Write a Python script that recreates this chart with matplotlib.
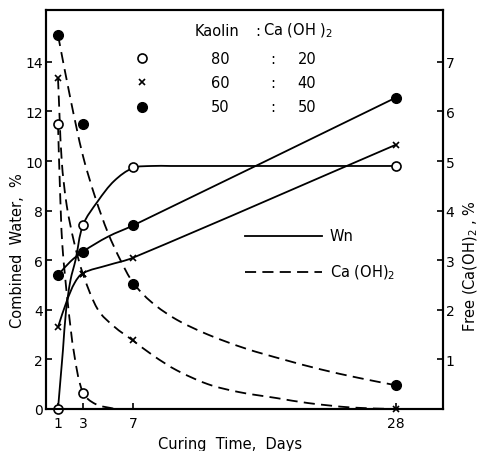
import matplotlib
matplotlib.use('Agg')
import matplotlib.pyplot as plt
import numpy as np
from matplotlib.path import Path
from matplotlib.patches import PathPatch

plt.rcParams['font.family'] = ['DejaVu Sans']
plt.rcParams['lines.scale_dashes'] = False

# ---------------- data ----------------
days = [1, 3, 7, 28]
x_ticks = [1, 3, 7, 28]
left_ticks = [0, 2, 4, 6, 8, 10, 12, 14]
right_ticks = [1, 2, 3, 4, 5, 6, 7]

# Combined water Wn (%), left axis - measured points
wn_80 = [0.0, 7.4, 9.75, 9.8]
wn_60 = [3.3, 5.45, 6.1, 10.65]
wn_50 = [5.4, 6.35, 7.4, 12.55]

# Free Ca(OH)2 (%), right axis - measured points
ch_80_days = [1, 3]
ch_80 = [5.75, 0.33]
ch_60 = [6.67, 2.72, 1.4, 0.0]
ch_50 = [7.54, 5.75, 2.52, 0.48]

# hand-drawn curve traces
wn_80_cx = [1, 1.2, 1.4, 1.65, 2.0, 2.4, 3, 4.2, 5.5, 7, 8.5, 10, 28]
wn_80_cy = [0, 1.2, 2.4, 4.0, 5.2, 6.0, 7.42, 8.39, 9.2, 9.72, 9.8, 9.8, 9.8]
wn_60_cx = [1, 1.7, 2.35, 3, 5, 7, 28]
wn_60_cy = [3.3, 4.35, 5.1, 5.48, 5.8, 6.1, 10.65]
wn_50_cx = [1, 2, 3, 5, 7, 28]
wn_50_cy = [5.4, 5.95, 6.35, 6.95, 7.4, 12.55]

ch_80_cx = [1, 1.15, 1.35, 1.8, 2.3, 3, 4, 5.6]
ch_80_cy = [5.75, 4.5, 3.3, 2.1, 1.1, 0.33, 0.1, 0.0]
ch_60_cx = [1, 1.3, 1.7, 2.3, 3, 4.2, 5.5, 7, 8.6, 10.5, 13, 15.5, 18.5, 21, 24.5, 28]
ch_60_cy = [6.67, 5.0, 4.1, 3.35, 2.72, 2.0, 1.66, 1.38, 1.08, 0.78, 0.5, 0.34, 0.22, 0.12, 0.03, 0.0]
ch_50_cx = [1, 2, 3, 4, 5, 6, 7, 8.5, 10.5, 13, 16, 19, 22, 25, 28]
ch_50_cy = [7.54, 6.25, 5.1, 4.25, 3.55, 3.0, 2.55, 2.15, 1.8, 1.5, 1.22, 1.0, 0.8, 0.63, 0.48]

legend_ratios = [("80", "20"), ("60", "40"), ("50", "50")]

# ---------------- figure ----------------
W, H = 483, 452
fig = plt.figure(figsize=(W / 100, H / 100), dpi=100)
fig.patch.set_facecolor('white')
ax = fig.add_axes([46 / W, (H - 410) / H, (443 - 46) / W, (410 - 11) / H])
ax2 = ax.twinx()

ax.set_xlim(0.04, 31.8)
ax.set_ylim(0, 16.09)
ax2.set_ylim(0, 16.09 / 2)

LW = 1.3
DASH = (0, (8, 4.5))


def smooth(axis, xs, ys, **kw):
    pts = np.column_stack([xs, ys]).astype(float)
    disp = axis.transData.transform(pts)
    n = len(disp)
    tang = np.zeros_like(disp)
    for i in range(n):
        d = disp[min(i + 1, n - 1)] - disp[max(i - 1, 0)]
        nrm = np.hypot(*d)
        tang[i] = d / nrm if nrm > 0 else 0
    verts = [disp[0]]
    codes = [Path.MOVETO]
    for i in range(n - 1):
        L = np.hypot(*(disp[i + 1] - disp[i]))
        verts += [disp[i] + tang[i] * L / 3, disp[i + 1] - tang[i + 1] * L / 3, disp[i + 1]]
        codes += [Path.CURVE4] * 3
    verts = axis.transData.inverted().transform(np.array(verts))
    axis.add_patch(PathPatch(Path(verts, codes), fill=False, transform=axis.transData,
                             capstyle='butt', joinstyle='round', **kw))


# Wn curves (solid)
smooth(ax, wn_80_cx, wn_80_cy, lw=LW, ec='black', zorder=2)
smooth(ax, wn_60_cx, wn_60_cy, lw=LW, ec='black', zorder=2)
smooth(ax, wn_50_cx, wn_50_cy, lw=LW, ec='black', zorder=2)
# Ca(OH)2 curves (dashed)
smooth(ax2, ch_80_cx, ch_80_cy, lw=LW, ec='black', ls=DASH, zorder=2)
smooth(ax2, ch_60_cx, ch_60_cy, lw=LW, ec='black', ls=DASH, zorder=2)
smooth(ax2, ch_50_cx, ch_50_cy, lw=LW, ec='black', ls=DASH, zorder=2)

mk_o = dict(marker='o', ms=6.5, mfc='white', mec='black', mew=1.2, ls='none', clip_on=False, zorder=5)
mk_x = dict(marker='x', ms=4.5, mec='black', mew=1.2, ls='none', clip_on=False, zorder=5)
mk_f = dict(marker='o', ms=7, mfc='black', mec='black', ls='none', clip_on=False, zorder=5)

ax.plot(days, wn_80, **mk_o)
ax.plot(days, wn_60, **mk_x)
ax.plot(days, wn_50, **mk_f)
ax2.plot(ch_80_days, ch_80, **mk_o)
ax2.plot(days, ch_60, **mk_x)
ax2.plot(days, ch_50, **mk_f)

# ---------------- axes styling ----------------
for a in (ax, ax2):
    for s in a.spines.values():
        s.set_linewidth(1.5)

ax.set_xticks(x_ticks)
ax.set_xticklabels([str(t) for t in x_ticks])
ax.set_yticks(left_ticks)
ax.set_yticklabels([str(t) for t in left_ticks])
ax2.set_yticks(right_ticks)
ax2.set_yticklabels([str(t) for t in right_ticks])

tick_font = 10
ax.tick_params(axis='x', direction='in', length=4, width=1.2, pad=5, labelsize=tick_font, top=False)
ax.tick_params(axis='y', direction='in', length=4, width=1.2, pad=2, labelsize=tick_font, right=False)
ax2.tick_params(axis='y', direction='in', length=4, width=1.2, pad=2, labelsize=tick_font)

ax.set_xlabel('Curing  Time,  Days', fontsize=10.5)
ax.xaxis.set_label_coords(0.463, -0.068)
ax.set_ylabel('Combined  Water,  %', fontsize=10.5)
ax.yaxis.set_label_coords(-0.053, 0.40)
ax2.set_ylabel(r'Free (Ca(OH)$_2$ , %', fontsize=10.5, rotation=90)
ax2.yaxis.set_label_coords(1.048, 0.36)


def fx(px):
    return (px - 46) / 397


def fy(py):
    return (410 - py) / 399


tk = dict(transform=ax.transAxes, fontsize=10.5, va='center')
ax.text(fx(195), fy(31), 'Kaolin', ha='left', **tk)
ax.text(fx(258), fy(31), ':', ha='center', **tk)
ax.text(fx(263), fy(31), r'Ca (OH )$_2$', ha='left', **tk)

row_y = [59, 83, 108]
row_mk = [mk_o, mk_x, mk_f]
for (a_, b_), py, mk in zip(legend_ratios, row_y, row_mk):
    ax.plot([fx(142)], [fy(py)], transform=ax.transAxes, **mk)
    ax.text(fx(220), fy(py), a_, ha='center', **tk)
    ax.text(fx(273), fy(py), ':', ha='center', **tk)
    ax.text(fx(307), fy(py), b_, ha='center', **tk)

ax.plot([fx(245), fx(322)], [fy(237), fy(237)], transform=ax.transAxes, color='black', lw=LW)
ax.text(fx(330), fy(237), 'Wn', ha='left', **tk)
ax.plot([fx(245), fx(322)], [fy(273), fy(273)], transform=ax.transAxes, color='black', lw=LW, ls=DASH)
ax.text(fx(330), fy(273), r'Ca (OH)$_2$', ha='left', **tk)

fig.savefig('out.png', dpi=100, facecolor='white')
